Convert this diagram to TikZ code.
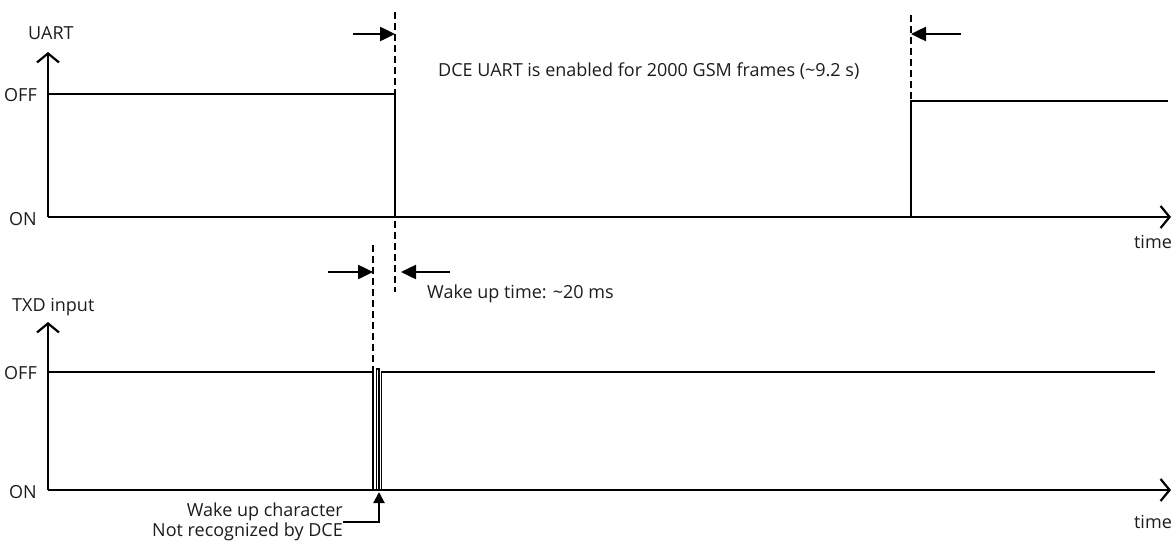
\documentclass[tikz,border=0pt]{standalone}
\usepackage{fontspec}
\setmainfont{Open Sans}
\usetikzlibrary{arrows.meta}
\definecolor{TimingInk}{HTML}{000000}
\definecolor{TimingText}{HTML}{1C1C1C}
\tikzset{
  timing text/.style={font=\fontsize{18}{20}\selectfont, text=TimingText, inner sep=0pt},
  timing axis/.style={draw=TimingInk, line width=2.2pt, -{Straight Barb[length=9pt,width=22pt,line width=2.2pt]}},
  timing signal/.style={draw=TimingInk, line width=1.4pt},
  timing marker/.style={draw=TimingInk, line width=1.6pt, dash pattern=on 7pt off 4pt},
  timing pointer/.style={draw=TimingInk, line width=2.5pt, -{Triangle[length=15pt,width=14pt]}},
  timing callout/.style={draw=TimingInk, line width=2pt, -{Triangle[length=11pt,width=11pt]}},
}

\begin{document}
\begin{tikzpicture}[x=1pt,y=-1pt]
  \useasboundingbox (0,0) rectangle (1173,541);

  % UART panel
  \coordinate (uorigin) at (48,217);
  \coordinate (utop) at (48,52);
  \coordinate (uright) at (1171,217);
  \draw[timing axis] (uorigin) -- (utop);
  \draw[timing axis] (uorigin) -- (uright);
  \node[timing text, anchor=west] (uart) at (28,33) {UART};
  \node[timing text, anchor=east] (uoff) at (37,95) {OFF};
  \node[timing text, anchor=east] (uon) at (37,219) {ON};
  \node[timing text] (utime) at (1153,242) {time};

  \coordinate (ustart) at (48,94);
  \coordinate (ufall) at (395,94);
  \coordinate (urise) at (911,101);
  \coordinate (uend) at (1168,101);
  \draw[timing signal] (ustart) -- (ufall) -- (ufall |- uorigin);
  \draw[timing signal] (urise |- uorigin) -- (urise) -- (uend);

  \coordinate (dcetop) at (395,12);
  \coordinate (dcebot) at (395,292);
  \coordinate (uarttop) at (911,15);
  \draw[timing marker] (dcetop) -- (dcebot);
  \draw[timing marker] (uarttop) -- (urise);
  \draw[timing pointer] (353,34) -- (ufall |- 0,34);
  \draw[timing pointer] (961,34) -- (urise |- 0,34);
  \node[timing text, anchor=west] (enabled) at (438,71) {DCE UART is enabled for 2000 GSM frames (\textasciitilde9.2 s)};

  % TXD panel
  \coordinate (torigin) at (48,490);
  \coordinate (ttop) at (48,322);
  \coordinate (tright) at (1171,490);
  \draw[timing axis] (torigin) -- (ttop);
  \draw[timing axis] (torigin) -- (tright);
  \node[timing text, anchor=west] (txd) at (12,307) {TXD input};
  \node[timing text, anchor=east] (toff) at (37,373) {OFF};
  \node[timing text, anchor=east] (ton) at (37,492) {ON};
  \node[timing text] (ttime) at (1153,522) {time};

  \coordinate (wake) at (373,372);
  \draw[timing signal] (48,372) -- (wake) -- (373,490) -- (376.5,490) -- (376.5,369)
    -- (379,369) -- (379,490) -- (381.5,490) -- (381.5,372) -- (1155,372);
  \coordinate (waketop) at (373,245);
  \draw[timing marker] (waketop) -- (wake);
  \draw[timing pointer] (328,272) -- (wake |- 0,272);
  \draw[timing pointer] (450,272) -- (401,272);
  \node[timing text, anchor=west] (waketime) at (427,294) {Wake up time: \textasciitilde20 ms};

  \node[timing text, anchor=east, align=right] (wakechar) at (343,522)
    {Wake up character\\Not recognized by DCE};
  \coordinate (wakepulse) at (379,492);
  \draw[timing callout] (wakechar.east) -| (wakepulse);
\end{tikzpicture}
\end{document}
